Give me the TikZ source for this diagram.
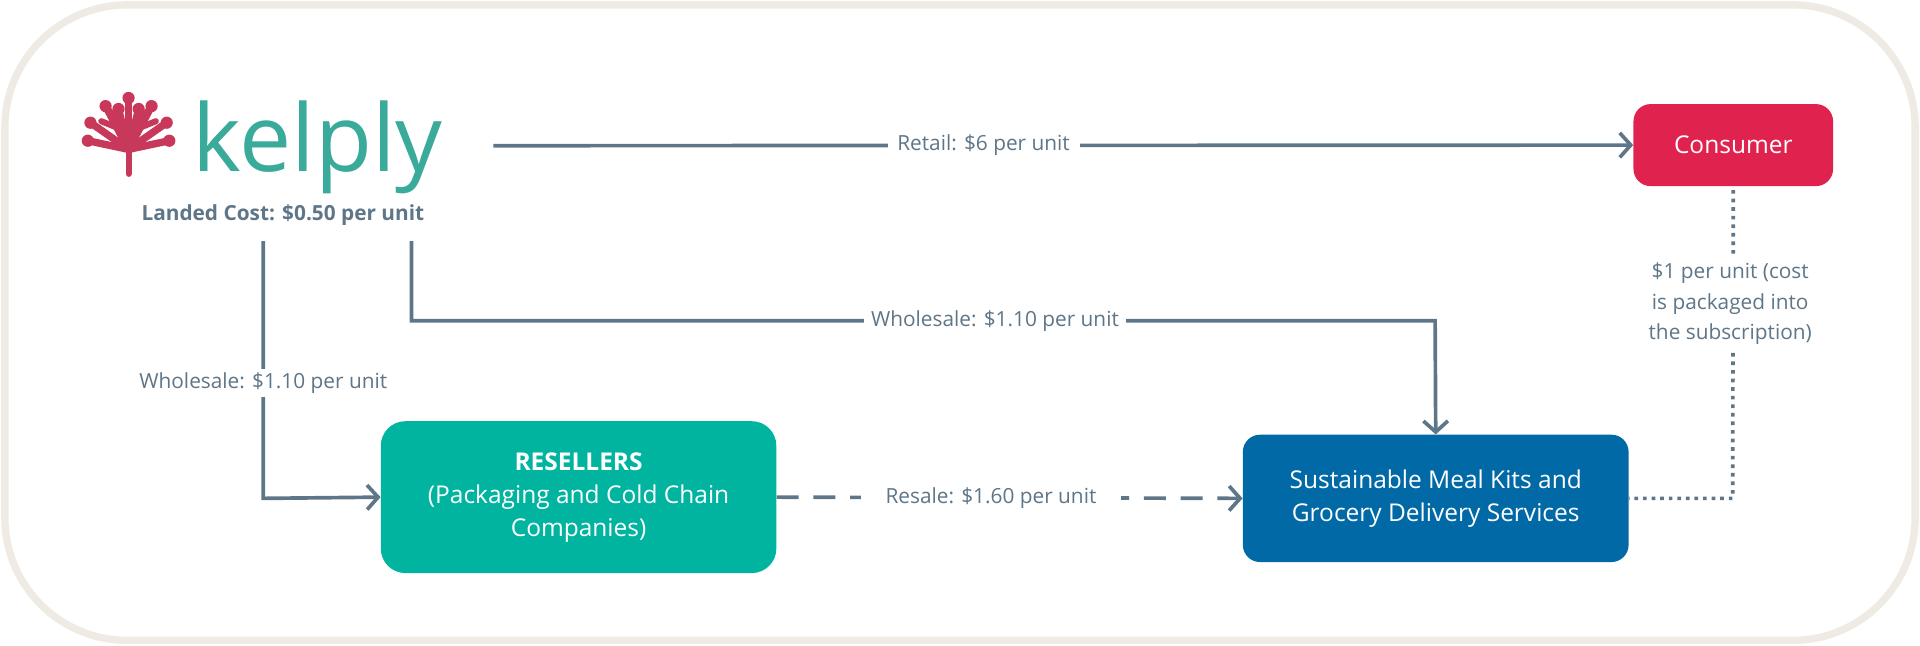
\documentclass[tikz,border=0pt]{standalone}
\usepackage{fontspec}
\setmainfont{Open Sans}
\usetikzlibrary{arrows.meta,positioning}
\definecolor{slate}{HTML}{5E7688}
\definecolor{kelpred}{HTML}{C8385A}
\definecolor{kelpteal}{HTML}{3AAA9B}
\definecolor{frame}{HTML}{EFEBE4}
\definecolor{consred}{HTML}{E0234E}
\definecolor{resteal}{HTML}{00B4A0}
\definecolor{mealblue}{HTML}{0069A6}
\tikzset{
  flow/.style={line width=3pt,draw=slate,-{Straight Barb[length=9pt,width=20pt,line width=3pt]}},
  lbl/.style={fill=white,text=slate,font=\fontsize{17}{20}\selectfont,inner sep=3pt},
  box/.style={rounded corners=14pt,text=white,align=center,inner sep=0pt,font=\fontsize{20}{27}\selectfont}
}
\begin{document}
\begin{tikzpicture}[x=1pt,y=-1pt]
	%Frame
	\useasboundingbox (0,0) rectangle (1568,527);
	\draw[frame,line width=6pt,rounded corners=100pt] (4,4) rectangle (1564,523);
	
	%Logo: tree
	\begin{scope}[kelpred,line width=6pt,line cap=round]
	\draw[line width=5pt] (105,142) -- (105,110);
	\foreach \a/\l in {-90/42,-62/40,-118/40,-35/38,-145/38,-76/34,-104/34,-12/34,-168/34}
	  {\draw (105,122) -- ++(\a:\l);
	   \fill (105,122) ++(\a:\l) circle (5pt);}
	\foreach \a/\l in {-48/26,-132/26,-22/24,-158/24}
	  \draw[line width=5pt] (105,108) -- ++(\a:\l);
	\end{scope}
	\node[text=kelpteal,font=\fontsize{76}{76}\selectfont,anchor=base west,inner sep=0pt] (logo) at (157,140) {kelply};
	\node[text=slate,font=\bfseries\fontsize{17}{20}\selectfont] (landed) at (231,176) {Landed Cost: \$0.50 per unit};
	
	%Boxes
	\node[box,fill=consred,minimum width=163pt,minimum height=67pt] (cons) at (1415.5,118.5) {Consumer};
	\node[box,fill=resteal,minimum width=323pt,minimum height=124pt,rounded corners=20pt] (resel) at (472.5,406) {\textbf{RESELLERS}\\(Packaging and Cold Chain\\Companies)};
	\node[box,fill=mealblue,minimum width=315pt,minimum height=104pt] (meal) at (1172.5,407) {Sustainable Meal Kits and\\Grocery Delivery Services};
	
	%Connectors
	\coordinate (retailstart) at (403,119);
	\coordinate (leftdrop) at (215,197);
	\coordinate (rightdrop) at (336,197);
	\draw[flow] (retailstart) -- (cons.west) node[lbl,pos=0.43,inner xsep=8pt] {Retail: \$6 per unit};
	\draw[flow] (leftdrop) -- (215,407) node[lbl,pos=0.55] {Wholesale: \$1.10 per unit} -- (resel.west);
	\draw[flow] (rightdrop) -- (336,262) -- (1172,262) node[lbl,pos=0.57,inner xsep=6pt] {Wholesale: \$1.10 per unit} -- (meal.north);
	\draw[flow,dashed,dash pattern=on 18pt off 12pt] (resel.east) -- (meal.west) node[lbl,pos=0.46,inner xsep=20pt] {Resale: \$1.60 per unit};
	\draw[slate,line width=3pt,dash pattern=on 3pt off 4pt] (cons.south) ++(0,3) -- (1415,407) -- (meal.east);
	\node[lbl,align=center,font=\fontsize{17}{25}\selectfont,inner sep=4pt] (sublbl) at (1413,248) {\$1 per unit (cost\\is packaged into\\the subscription)};
\end{tikzpicture}
\end{document}
